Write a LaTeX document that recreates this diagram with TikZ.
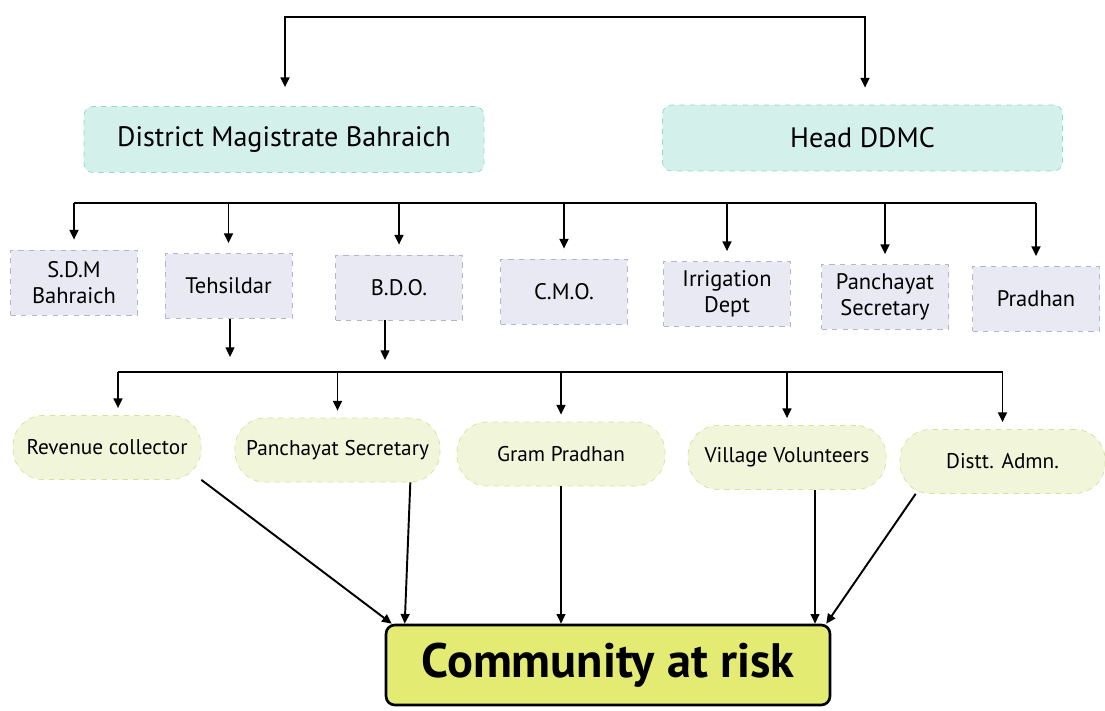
\documentclass[tikz,border=0pt]{standalone}
\usepackage{fontspec}
\setmainfont{PT Sans}
\usetikzlibrary{arrows.meta,calc}
\definecolor{tealfill}{HTML}{D3F0EA}
\definecolor{tealline}{HTML}{8FD8CC}
\definecolor{lavfill}{HTML}{E9E9F4}
\definecolor{lavline}{HTML}{B4B4CC}
\definecolor{pillfill}{HTML}{F1F6DA}
\definecolor{pillline}{HTML}{D6E29C}
\definecolor{riskfill}{HTML}{E3EB72}
\tikzset{
  headbox/.style={draw=tealline, dashed, fill=tealfill, rounded corners=5pt,
    minimum width=8cm, minimum height=1.32cm, font=\fontsize{16}{18}\selectfont},
  officebox/.style={draw=lavline, dashed, fill=lavfill, minimum width=2.54cm,
    minimum height=1.3cm, align=center, font=\fontsize{12.8}{14.5}\selectfont},
  pill/.style={draw=pillline, dashed, fill=pillfill, rounded corners=0.6cm,
    minimum height=1.28cm, font=\fontsize{12.1}{14}\selectfont},
  riskbox/.style={draw, line width=1.5pt, fill=riskfill, rounded corners=5pt,
    minimum width=8.88cm, minimum height=1.6cm, font=\bfseries\fontsize{27.5}{32}\selectfont},
  bar/.style={line width=1.1pt},
  link/.style={line width=1.1pt, ->},
}
\begin{document}
\begin{tikzpicture}[x=0.02cm, y=-0.02cm, >={Triangle[length=5.5pt,width=5pt]}]
\fill[white] (0,0) rectangle (1105,710);
\useasboundingbox (0,0) rectangle (1105,710);

% heads
\node[headbox] (dm) at (284,139.5) {District Magistrate Bahraich};
\node[headbox] (ddmc) at (862.5,138) {Head DDMC};

% offices
\node[officebox] (sdm)  at (74,282.5)  {S.D.M\\Bahraich};
\node[officebox] (teh)  at (228.5,286) {Tehsildar};
\node[officebox] (bdo)  at (399,287.5) {B.D.O.};
\node[officebox] (cmo)  at (564,291.5) {C.M.O.};
\node[officebox] (irr)  at (727,294)   {Irrigation\\Dept};
\node[officebox] (psec) at (885,297)   {Panchayat\\Secretary};
\node[officebox] (prad) at (1036,299)  {Pradhan};

% field level
\node[pill, minimum width=3.76cm] (rev)    at (107,447.5) {Revenue collector};
\node[pill, minimum width=4.1cm]  (pansec) at (337.5,450) {Panchayat Secretary};
\node[pill, minimum width=4.16cm] (gram)   at (561,454)   {Gram Pradhan};
\node[pill, minimum width=3.96cm] (vol)    at (787,457.5) {Village Volunteers};
\node[pill, minimum width=4.1cm]  (distt)  at (1002.5,461.5) {Distt. Admn.};

\node[riskbox] (comm) at (608,665) {Community at risk};

% top bracket
\coordinate (t1) at (285,17);
\coordinate (t2) at (865,17);
\draw[link, <->, shorten <=0.38cm, shorten >=0.34cm] (t1 |- dm.north) -- (t1) -- (t2) -- (t2 |- ddmc.north);

% second bracket
\coordinate (b1) at (72,203);
\draw[bar] (sdm.north |- b1) -- (prad.north |- b1);
\draw[link, shorten >=0.2cm] (sdm.north |- b1) -- (sdm.north);
\draw[link, shorten >=0.2cm] (teh.north |- b1) -- (teh.north);
\draw[link, shorten >=0.2cm] (bdo.north |- b1) -- (bdo.north);
\draw[link, shorten >=0.2cm] (cmo.north |- b1) -- (cmo.north);
\draw[link, shorten >=0.2cm] (irr.north |- b1) -- (irr.north);
\draw[link, shorten >=0.2cm] (psec.north |- b1) -- (psec.north);
\draw[link, shorten >=0.2cm] (prad.north |- b1) -- (prad.north);

% down from tehsildar and bdo
\coordinate (tehEnd) at (230,357);
\coordinate (bdoEnd) at (385,360);
\draw[link] (tehEnd |- teh.south) -- (tehEnd);
\draw[link] (bdoEnd |- bdo.south) -- (bdoEnd);

% third bracket
\coordinate (b3) at (118,372);
\draw[bar] (b3) -- (distt.north |- b3);
\draw[link, shorten >=0.14cm] (b3) -- (b3 |- rev.north);
\draw[link, shorten >=0.14cm] (pansec.north |- b3) -- (pansec.north);
\draw[link, shorten >=0.14cm] (gram.north |- b3) -- (gram.north);
\draw[link, shorten >=0.14cm] (vol.north |- b3) -- (vol.north);
\draw[link, shorten >=0.14cm] (distt.north |- b3) -- (distt.north);

% to community
\draw[link] (rev.south east) -- ($(comm.north west)+(7,0)$);
\draw[link] ($(pansec.south east)+(-30,0)$) -- ($(comm.north west)+(20,0)$);
\draw[link] (gram.south) -- (gram.south |- comm.north);
\draw[link] ($(vol.south)+(28,0)$) -- ($(comm.north)+(207,0)$);
\draw[link] ($(distt.south west)+(16,0)$) -- ($(comm.north east)+(-5,0)$);
\end{tikzpicture}
\end{document}
